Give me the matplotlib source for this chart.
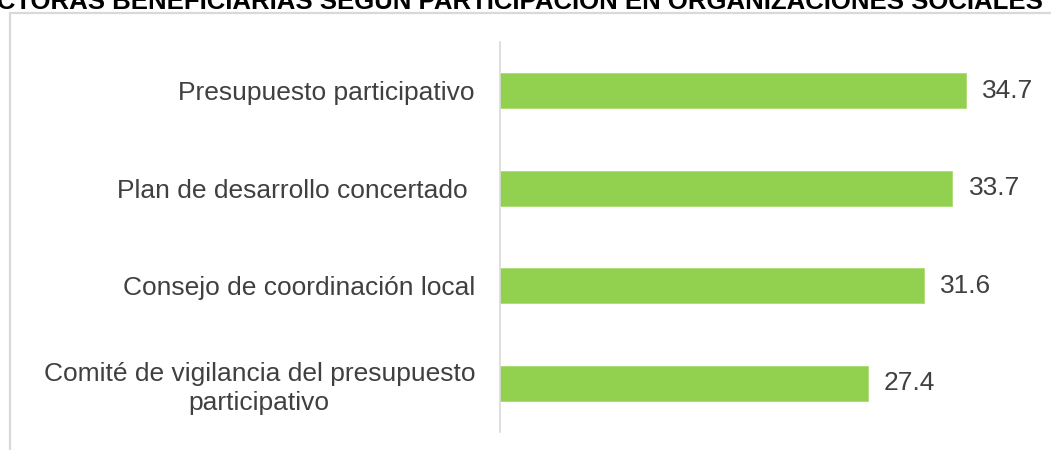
import matplotlib.pyplot as plt
from matplotlib.patches import Rectangle

# data
categories = [
    "Presupuesto participativo",
    "Plan de desarrollo concertado ",
    "Consejo de coordinación local",
    "Comité de vigilancia del presupuesto\nparticipativo",
]
values = [34.7, 33.7, 31.6, 27.4]
title = "MUJERES PRODUCTORAS BENEFICIARIAS SEGÚN PARTICIPACIÓN EN ORGANIZACIONES SOCIALES"

plt.rcParams['font.family'] = ['Liberation Sans', 'DejaVu Sans']

fig = plt.figure(figsize=(10.51, 4.5), dpi=100)
W, H = 1051, 450

# outer chart frame (only top-left corner is visible)
frame = Rectangle((10 / W, -0.2), 1.2, (H - 13) / H + 0.2, transform=fig.transFigure,
                  fill=False, edgecolor='#d9d9d9', linewidth=1.6, clip_on=False)
fig.patches.append(frame)

# title, cut at the top edge like in the source
fig.text(1043 / W, 1 - 9 / H, title, ha='right', va='baseline',
         fontsize=18.5, fontweight='bold', color='black')

ax = fig.add_axes([500 / W, 18 / H, 537 / W, 390 / H])
y = list(range(len(categories)))
ax.barh(y, values, height=0.36, color='#92d050', edgecolor='#a9dc72', linewidth=0.6)

for yi, v in zip(y, values):
    ax.text(v + 1.2, yi, f"{v:.1f}", va='center', ha='left', fontsize=19, color='#404040')

ax.set_yticks(y)
ax.set_yticklabels(categories, fontsize=19, color='#404040', linespacing=1.3)
for lbl in ax.get_yticklabels():
    lbl.set_multialignment('center')
ax.tick_params(axis='y', length=0, pad=18)
ax.tick_params(axis='x', bottom=False, labelbottom=False)
ax.set_ylim(len(categories) - 0.5, -0.5)
ax.set_xlim(0, 40)

for s in ['top', 'right', 'bottom']:
    ax.spines[s].set_visible(False)
ax.spines['left'].set_color('#d9d9d9')
ax.spines['left'].set_linewidth(1.2)

fig.savefig('out.png', dpi=100)
